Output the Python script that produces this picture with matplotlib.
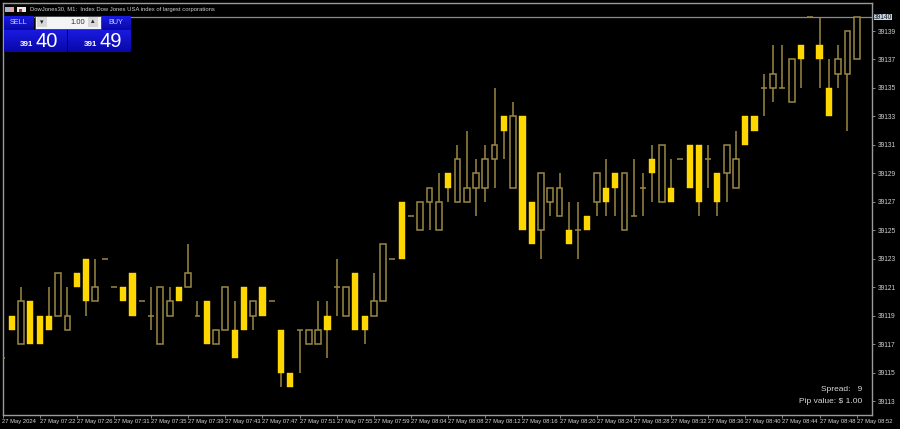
import numpy as np
import matplotlib
matplotlib.use("Agg")
import matplotlib.pyplot as plt
from matplotlib.patches import Rectangle

base = 39000
opens = [116,119,117,120,119,119,119,118,122,123,120,123,121,121,122,120,119,117,119,121,121,119,120,117,
         118,118,121,119,121,120,118,115,118,117,117,119,121,119,122,119,119,120,123,127,126,125,127,125,
         129,127,127,128,128,130,133,128,133,127,125,127,126,125,125,126,127,128,129,125,126,128,130,127,
         128,130,131,131,130,129,129,128,133,133,135,135,135,134,138,140,138,135,136,136,137]
highs = [116,119,121,120,119,121,122,121,122,123,123,123,121,121,122,120,121,121,121,121,124,120,120,118,
         121,120,121,120,121,120,118,115,118,118,120,120,123,121,122,119,122,124,123,127,126,127,128,129,
         129,131,132,130,131,135,133,134,133,127,129,128,129,127,127,126,129,130,129,129,130,129,131,131,
         130,130,131,131,131,129,131,132,133,133,136,138,138,137,138,140,140,137,138,139,140]
lows = [116,118,117,117,117,118,119,118,121,119,120,123,121,120,119,120,118,117,119,120,121,119,117,117,
        118,116,118,118,119,120,114,114,115,117,117,116,119,119,118,117,119,120,123,123,126,125,125,125,
        127,127,127,126,127,128,130,128,125,124,123,126,126,124,123,125,126,126,126,125,126,126,127,127,
        127,130,128,126,128,126,127,128,131,132,133,134,135,134,135,140,135,133,135,132,137]
closes = [116,118,120,117,117,118,122,119,121,120,121,123,121,120,119,120,119,121,120,120,122,119,117,118,
          121,116,118,120,119,120,115,114,118,118,118,118,121,121,118,118,120,124,123,123,126,127,128,127,
          128,130,128,129,130,131,132,133,125,124,129,128,128,124,125,125,129,127,128,129,126,128,129,131,
          127,130,128,127,130,127,131,130,131,132,135,136,135,137,137,140,137,133,137,139,140]

time_labels = ["27 May 2024","27 May 07:22","27 May 07:26","27 May 07:31","27 May 07:35","27 May 07:39",
               "27 May 07:43","27 May 07:47","27 May 07:51","27 May 07:55","27 May 07:59","27 May 08:04",
               "27 May 08:08","27 May 08:12","27 May 08:16","27 May 08:20","27 May 08:24","27 May 08:28",
               "27 May 08:32","27 May 08:36","27 May 08:40","27 May 08:44","27 May 08:48","27 May 08:52"]
price_ticks = list(range(39113, 39140, 2))
last_price = 39140

plt.rcParams['font.family'] = ['Liberation Sans', 'DejaVu Sans']

W, H = 900, 429
fig = plt.figure(figsize=(W/100, H/100), dpi=100, facecolor="black")

# main chart, placed so bars land on the 9.29 px grid of the terminal
left, right, top, bottom = 2.5, 872, 3, 415
ax = fig.add_axes([left/W, 1-bottom/H, (right-left)/W, (bottom-top)/H], facecolor="black")
ax.set_xlim((left-2)/9.29, (right-2)/9.29)
ax.set_ylim(39113+(401-bottom)/14.23, 39113+(401-top)/14.23)

o = np.array(opens)+base
h = np.array(highs)+base
l = np.array(lows)+base
c = np.array(closes)+base
x = np.arange(len(o))

dim = "#9a8842"
gold = "#ffd700"
ax.vlines(x, l, h, color=dim, lw=1.1, zorder=2)
up = c > o
down = c < o
flat = c == o
ax.bar(x[up], (c-o)[up], bottom=o[up], width=0.62, facecolor="black", edgecolor=dim, lw=1.1, zorder=3)
ax.bar(x[down], (o-c)[down], bottom=c[down], width=0.66, facecolor=gold, edgecolor=gold, lw=0.3, zorder=3)
ax.hlines(o[flat], x[flat]-0.32, x[flat]+0.32, color=dim, lw=1.1, zorder=3)

for s in ax.spines.values():
    s.set_color("#9a9a9a")
    s.set_linewidth(1.0)

ax.set_xticks(x[::4])
ax.set_xticklabels(time_labels, ha="left", fontsize=4.2, color="#d8d8d8")
ax.set_yticks(price_ticks)
ax.yaxis.tick_right()
ax.set_yticklabels([str(p) for p in price_ticks], fontsize=4.8, color="#d0d0d0")
ax.tick_params(axis="x", length=2, width=0.6, color="#9a9a9a", pad=1)
ax.tick_params(axis="y", length=2.5, width=0.6, color="#9a9a9a", pad=1.5)
ax.axhline(last_price, color="#8a8a8a", lw=0.9, zorder=1)

# terminal chrome drawn in pixel coordinates on top
ui = fig.add_axes([0, 0, 1, 1], facecolor="none")
ui.set_xlim(0, W)
ui.set_ylim(H, 0)
ui.axis("off")

ui.add_patch(Rectangle((874, 14), 18, 6, fc="#c8d4e4", ec="none"))
ui.text(883, 17.2, str(last_price), fontsize=4.8, color="#101820", ha="center", va="center")

# title bar
ui.add_patch(Rectangle((5, 7), 4.5, 5, fc="#9fb6d8", ec="none"))
ui.add_patch(Rectangle((9.5, 7), 4.5, 5, fc="#e0a0a0", ec="none"))
ui.add_patch(Rectangle((17, 7), 9, 5, fc="#e8e8e8", ec="none"))
ui.add_patch(Rectangle((19, 9), 3, 3, fc="#c02828", ec="none"))
ui.text(30, 9.8, "DowJones30, M1:  Index Dow Jones USA index of largest corporations",
        fontsize=4.2, color="#d0d0d0", ha="left", va="center")

# one click trading panel
grad = np.linspace(0, 1, 32).reshape(-1, 1)
cmap = matplotlib.colors.LinearSegmentedColormap.from_list("btn", ["#1a1ae0", "#0808a8"])
for bx0, bx1, by0, by1 in [(4, 34, 16, 30), (102, 131, 16, 30), (4, 67, 30, 52), (68, 131, 30, 52)]:
    ui.imshow(grad, extent=(bx0, bx1, by1, by0), cmap=cmap, aspect="auto", zorder=3)
ui.set_xlim(0, W)
ui.set_ylim(H, 0)
ui.add_patch(Rectangle((35, 16), 66, 13, fc="#f4f4f4", ec="#404040", lw=0.6, zorder=4))
ui.add_patch(Rectangle((37, 17), 10, 10, fc="#d8d8d8", ec="none", zorder=5))
ui.add_patch(Rectangle((88, 17), 10, 10, fc="#d8d8d8", ec="none", zorder=5))
ui.text(42, 22.5, "\u25be", fontsize=5, color="#202020", ha="center", va="center", zorder=6)
ui.text(93, 22, "\u25b4", fontsize=5, color="#202020", ha="center", va="center", zorder=6)
ui.text(85, 22.5, "1.00", fontsize=5.4, color="#303030", ha="right", va="center", zorder=6)
ui.text(18.5, 23, "SELL", fontsize=5.2, color="#c8d4ff", ha="center", va="center", zorder=6)
ui.text(116, 23, "BUY", fontsize=5.2, color="#c8d4ff", ha="center", va="center", zorder=6)
ui.text(33.5, 45, "391", fontsize=5.8, color="white", fontweight="bold", ha="right", va="center", zorder=6)
ui.text(35, 41.5, "40", fontsize=14.5, color="white", ha="left", va="center", zorder=6)
ui.text(97.5, 45, "391", fontsize=5.8, color="white", fontweight="bold", ha="right", va="center", zorder=6)
ui.text(99.5, 41.5, "49", fontsize=14.5, color="white", ha="left", va="center", zorder=6)

# info text bottom right
ui.text(862, 389.5, "Spread:   9", fontsize=6.05, color="#d8d8d8", ha="right", va="center")
ui.text(862, 401.5, "Pip value: $ 1.00", fontsize=6.05, color="#d8d8d8", ha="right", va="center")

fig.savefig("out.png", dpi=100, facecolor="black")
